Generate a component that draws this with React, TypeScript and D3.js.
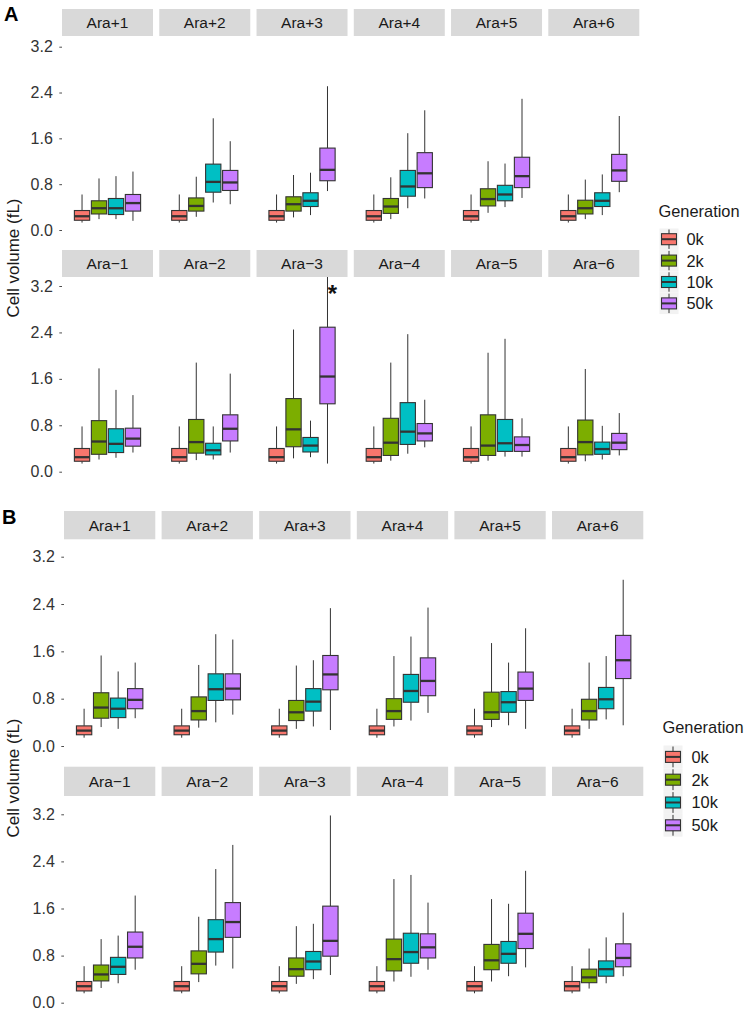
import React, { useRef, useEffect } from "react";
import { select, scaleLinear, scalePoint, axisLeft, format } from "d3";

// Generations and their fill colours (ggplot default hues)
const generations = ["0k", "2k", "10k", "50k"];
const genColors = ["#F8766D", "#7CAE00", "#00BFC4", "#C77CFF"];

const plusPops = ["Ara+1", "Ara+2", "Ara+3", "Ara+4", "Ara+5", "Ara+6"];
const minusPops = ["Ara\u22121", "Ara\u22122", "Ara\u22123", "Ara\u22124", "Ara\u22125", "Ara\u22126"];

const yTicks = [0, 0.8, 1.6, 2.4, 3.2];

// box stats per population, per generation: [low whisker, q1, median, q3, high whisker]
const statsAPlus = [
  [[0.13, 0.17, 0.24, 0.34, 0.62], [0.19, 0.28, 0.38, 0.51, 0.9], [0.19, 0.27, 0.38, 0.55, 0.94], [0.16, 0.33, 0.47, 0.62, 1.02]],
  [[0.13, 0.17, 0.24, 0.34, 0.62], [0.23, 0.33, 0.42, 0.56, 0.93], [0.48, 0.66, 0.84, 1.15, 1.95], [0.45, 0.69, 0.83, 1.04, 1.55]],
  [[0.13, 0.17, 0.24, 0.34, 0.62], [0.22, 0.33, 0.45, 0.58, 0.96], [0.26, 0.41, 0.51, 0.65, 1.0], [0.68, 0.86, 1.05, 1.43, 2.51]],
  [[0.13, 0.17, 0.24, 0.34, 0.62], [0.19, 0.29, 0.41, 0.55, 0.92], [0.38, 0.59, 0.76, 1.04, 1.69], [0.55, 0.74, 0.99, 1.35, 2.09]],
  [[0.13, 0.17, 0.24, 0.34, 0.62], [0.3, 0.42, 0.54, 0.72, 1.2], [0.4, 0.51, 0.62, 0.78, 1.16], [0.56, 0.74, 0.94, 1.27, 2.29]],
  [[0.13, 0.17, 0.24, 0.34, 0.62], [0.19, 0.28, 0.38, 0.52, 0.88], [0.26, 0.41, 0.51, 0.65, 0.97], [0.66, 0.85, 1.04, 1.32, 1.99]],
];

const statsAMinus = [
  [[0.14, 0.18, 0.25, 0.4, 0.78], [0.21, 0.3, 0.52, 0.88, 1.78], [0.24, 0.33, 0.48, 0.74, 1.41], [0.33, 0.44, 0.57, 0.75, 1.32]],
  [[0.14, 0.18, 0.25, 0.4, 0.78], [0.2, 0.32, 0.51, 0.9, 1.88], [0.21, 0.29, 0.37, 0.49, 0.78], [0.33, 0.53, 0.74, 0.98, 1.69]],
  [[0.14, 0.18, 0.25, 0.4, 0.78], [0.23, 0.43, 0.73, 1.26, 2.45], [0.25, 0.34, 0.45, 0.59, 0.88], [0.14, 1.17, 1.64, 2.49, 3.45]],
  [[0.14, 0.18, 0.25, 0.4, 0.78], [0.19, 0.28, 0.5, 0.92, 1.88], [0.31, 0.47, 0.69, 1.19, 2.37], [0.42, 0.53, 0.66, 0.83, 1.24]],
  [[0.14, 0.18, 0.25, 0.4, 0.78], [0.19, 0.28, 0.45, 0.98, 2.05], [0.26, 0.35, 0.49, 0.9, 2.29], [0.26, 0.35, 0.46, 0.6, 0.92]],
  [[0.14, 0.18, 0.25, 0.4, 0.78], [0.18, 0.29, 0.51, 0.89, 1.77], [0.21, 0.3, 0.39, 0.51, 0.79], [0.28, 0.38, 0.5, 0.66, 1.01]],
];

const statsBPlus = [
  [[0.14, 0.19, 0.26, 0.34, 0.63], [0.32, 0.47, 0.65, 0.9, 1.53], [0.29, 0.48, 0.63, 0.81, 1.26], [0.47, 0.63, 0.78, 0.97, 1.41]],
  [[0.14, 0.19, 0.26, 0.34, 0.63], [0.31, 0.44, 0.59, 0.83, 1.37], [0.4, 0.77, 0.96, 1.22, 1.89], [0.53, 0.78, 0.97, 1.22, 1.8]],
  [[0.14, 0.19, 0.26, 0.34, 0.63], [0.29, 0.43, 0.57, 0.77, 1.36], [0.33, 0.59, 0.75, 0.97, 1.45], [0.27, 0.95, 1.21, 1.53, 2.33]],
  [[0.14, 0.19, 0.26, 0.34, 0.63], [0.33, 0.45, 0.59, 0.8, 1.52], [0.43, 0.74, 0.93, 1.21, 1.85], [0.56, 0.85, 1.1, 1.49, 2.34]],
  [[0.14, 0.19, 0.26, 0.34, 0.63], [0.32, 0.45, 0.57, 0.91, 1.74], [0.35, 0.57, 0.74, 0.92, 1.41], [0.29, 0.77, 0.97, 1.25, 1.99]],
  [[0.14, 0.19, 0.26, 0.34, 0.63], [0.29, 0.44, 0.59, 0.79, 1.41], [0.45, 0.63, 0.79, 0.99, 1.52], [0.35, 1.14, 1.45, 1.87, 2.81]],
];

const statsBMinus = [
  [[0.16, 0.2, 0.28, 0.36, 0.62], [0.25, 0.37, 0.48, 0.64, 1.08], [0.33, 0.48, 0.61, 0.77, 1.14], [0.56, 0.76, 0.95, 1.2, 1.82]],
  [[0.16, 0.2, 0.28, 0.36, 0.62], [0.35, 0.49, 0.66, 0.88, 1.46], [0.63, 0.86, 1.08, 1.41, 2.27], [0.58, 1.11, 1.37, 1.7, 2.68]],
  [[0.16, 0.2, 0.28, 0.36, 0.62], [0.32, 0.45, 0.57, 0.76, 1.3], [0.4, 0.56, 0.7, 0.87, 1.34], [0.47, 0.79, 1.05, 1.64, 3.18]],
  [[0.16, 0.2, 0.28, 0.36, 0.62], [0.36, 0.54, 0.74, 1.08, 2.1], [0.44, 0.67, 0.86, 1.18, 2.17], [0.56, 0.76, 0.94, 1.17, 1.7]],
  [[0.16, 0.2, 0.28, 0.36, 0.62], [0.36, 0.56, 0.72, 0.99, 1.76], [0.45, 0.67, 0.83, 1.04, 1.68], [0.6, 0.92, 1.17, 1.52, 2.24]],
  [[0.16, 0.2, 0.28, 0.36, 0.62], [0.24, 0.34, 0.43, 0.57, 0.92], [0.33, 0.45, 0.57, 0.71, 1.11], [0.45, 0.61, 0.76, 1.0, 1.53]],
];

const FONT = "'Liberation Sans', Arial, Helvetica, sans-serif";
const INK = "#333333";

// facet rows: panel geometry
const rows = [
  { pops: plusPops, stats: statsAPlus, x0: 62, step: 97.26, w: 91, stripTop: 9, stripH: 27, y0: 230, y32: 46.7, bottom: 245 },
  { pops: minusPops, stats: statsAMinus, x0: 62, step: 97.26, w: 91, stripTop: 250, stripH: 27, y0: 471.7, y32: 286, bottom: 487 },
  { pops: plusPops, stats: statsBPlus, x0: 64, step: 97.6, w: 91.3, stripTop: 511, stripH: 28.3, y0: 746, y32: 556.7, bottom: 761 },
  { pops: minusPops, stats: statsBMinus, x0: 64, step: 97.6, w: 91.3, stripTop: 766.7, stripH: 29.3, y0: 1002.7, y32: 814.3, bottom: 1017 },
];

const panels = [
  { tag: "A", tagY: 21, tagX: 4, titleY: 258, legendTitleY: 216.5, legendX: 659.5, keyTop: 228.5, keyH: 21.4, labelX: 686.5 },
  { tag: "B", tagY: 524, tagX: 2, titleY: 778, legendTitleY: 733, legendX: 663.5, keyTop: 745.5, keyH: 22.8, labelX: 691.5 },
];

export default function App() {
  const svgRef = useRef<SVGSVGElement>(null);

  useEffect(() => {
    const svg = select(svgRef.current);
    svg.selectAll("*").remove();

    rows.forEach((row) => {
      const y = scaleLinear().domain([0, 3.2]).range([row.y0, row.y32]);
      const panelTop = row.stripTop + row.stripH;
      const clampY = (v: number) => Math.min(row.bottom, Math.max(panelTop, y(v)));

      // y axis on the left of the first panel
      const axisG = svg
        .append("g")
        .attr("transform", `translate(${row.x0},0)`)
        .call(axisLeft(y).tickValues(yTicks).tickFormat(format(".1f")).tickSize(2.7).tickPadding(6.5));
      axisG.select(".domain").remove();
      axisG.selectAll("line").attr("stroke", "#4d4d4d");
      axisG.selectAll("text").attr("font-family", FONT).attr("font-size", 16).attr("fill", INK);

      row.pops.forEach((pop, pi) => {
        const px = row.x0 + pi * row.step;
        const g = svg.append("g");

        g.append("rect")
          .attr("x", px)
          .attr("y", row.stripTop)
          .attr("width", row.w)
          .attr("height", row.stripH)
          .attr("fill", "#D9D9D9");
        g.append("text")
          .attr("x", px + row.w / 2)
          .attr("y", row.stripTop + row.stripH / 2)
          .attr("dy", "0.36em")
          .attr("text-anchor", "middle")
          .attr("font-family", FONT)
          .attr("font-size", 15.5)
          .attr("fill", "#1a1a1a")
          .text(pop);

        const x = scalePoint<string>().domain(generations).range([px, px + row.w]).padding(1.18);
        const bw = x.step() * 0.9;

        row.stats[pi].forEach((s, gi) => {
          const [lo, q1, med, q3, hi] = s;
          const cx = x(generations[gi]) as number;
          g.append("line")
            .attr("x1", cx).attr("x2", cx)
            .attr("y1", clampY(hi)).attr("y2", y(q3))
            .attr("stroke", INK).attr("stroke-width", 1);
          g.append("line")
            .attr("x1", cx).attr("x2", cx)
            .attr("y1", y(q1)).attr("y2", clampY(lo))
            .attr("stroke", INK).attr("stroke-width", 1);
          g.append("rect")
            .attr("x", cx - bw / 2)
            .attr("y", y(q3))
            .attr("width", bw)
            .attr("height", y(q1) - y(q3))
            .attr("fill", genColors[gi])
            .attr("stroke", INK)
            .attr("stroke-width", 1.1);
          g.append("line")
            .attr("x1", cx - bw / 2).attr("x2", cx + bw / 2)
            .attr("y1", y(med)).attr("y2", y(med))
            .attr("stroke", INK).attr("stroke-width", 2.3);

          // whisker runs past the panel top: flag it
          if (hi > 3.36) {
            g.append("text")
              .attr("x", cx + 5)
              .attr("y", panelTop + 25)
              .attr("text-anchor", "middle")
              .attr("font-family", FONT)
              .attr("font-weight", "bold")
              .attr("font-size", 24)
              .attr("fill", "#111")
              .text("*");
          }
        });
      });
    });

    panels.forEach((p) => {
      svg.append("text")
        .attr("x", p.tagX)
        .attr("y", p.tagY)
        .attr("font-family", FONT)
        .attr("font-weight", "bold")
        .attr("font-size", 20)
        .attr("fill", "#000")
        .text(p.tag);

      svg.append("text")
        .attr("transform", `translate(13,${p.titleY}) rotate(-90)`)
        .attr("dy", "0.36em")
        .attr("text-anchor", "middle")
        .attr("font-family", FONT)
        .attr("font-size", 17)
        .attr("fill", "#1a1a1a")
        .text("Cell volume (fL)");

      const lg = svg.append("g");
      lg.append("text")
        .attr("x", p.legendX - 1)
        .attr("y", p.legendTitleY)
        .attr("font-family", FONT)
        .attr("font-size", 16.4)
        .attr("fill", "#1a1a1a")
        .text("Generation");

      generations.forEach((gen, gi) => {
        const top = p.keyTop + gi * p.keyH;
        const cx = p.legendX + 9.5;
        const cy = top + p.keyH / 2;
        lg.append("rect")
          .attr("x", p.legendX)
          .attr("y", top)
          .attr("width", 19)
          .attr("height", p.keyH)
          .attr("fill", "#F2F2F2");
        lg.append("line")
          .attr("x1", cx).attr("x2", cx)
          .attr("y1", top + 1).attr("y2", top + p.keyH - 1)
          .attr("stroke", INK).attr("stroke-width", 1);
        lg.append("rect")
          .attr("x", cx - 7.5)
          .attr("y", cy - 5.5)
          .attr("width", 15)
          .attr("height", 11)
          .attr("fill", genColors[gi])
          .attr("stroke", INK)
          .attr("stroke-width", 1.1);
        lg.append("line")
          .attr("x1", cx - 7.5).attr("x2", cx + 7.5)
          .attr("y1", cy).attr("y2", cy)
          .attr("stroke", INK).attr("stroke-width", 2);
        lg.append("text")
          .attr("x", p.labelX)
          .attr("y", cy)
          .attr("dy", "0.36em")
          .attr("font-family", FONT)
          .attr("font-size", 16.4)
          .attr("fill", "#1a1a1a")
          .text(gen);
      });
    });
  }, []);

  return (
    <svg
      ref={svgRef}
      width={750}
      height={1020}
      style={{ position: "absolute", left: 0, top: 0, background: "#fff" }}
    />
  );
}
